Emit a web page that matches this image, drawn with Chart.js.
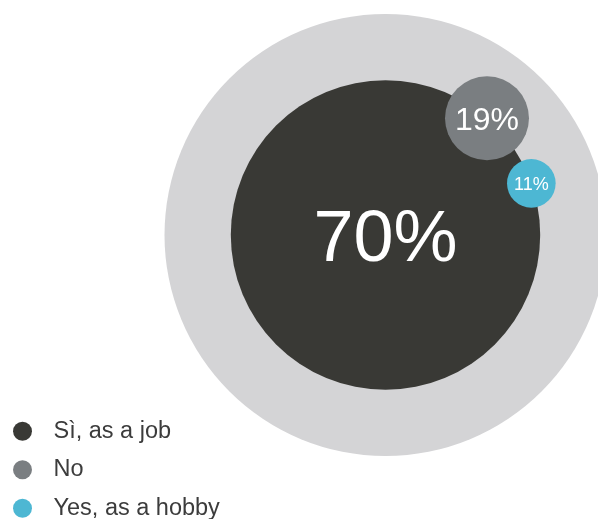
<!DOCTYPE html>
<html>
<head>
<meta charset="utf-8">
<script src="https://cdn.jsdelivr.net/npm/chart.js@4.4.1/dist/chart.umd.min.js"></script>
<style>
  html, body { margin: 0; padding: 0; background: #fff; overflow: hidden; }
  /* a little taller than the window so the legend sits on the bottom edge */
  #wrap { width: 598px; height: 535px; position: relative; }
</style>
</head>
<body>
<div id="wrap"><canvas id="chart"></canvas></div>
<script>
// Survey answers, in percent
const categories = ['Sì, as a job', 'No', 'Yes, as a hobby'];
const shares = [70, 19, 11];
const valueLabels = ['70%', '19%', '11%'];
const total = 100;

// Looks
const COLORS = ['#393935', '#7a7e81', '#4db7d3'];
const TOTAL_COLOR = '#d4d4d6';
const LABEL_SIZES = [72, 32, 18];
const FONT = "'Liberation Sans', Arial, Helvetica, sans-serif";

// Layout: one scale unit = one percent of radius
const PX_PER_UNIT = 2.21;
const CENTER_PX = { x: 385.5, y: 235 };
const AREA = { w: 598, h: 535 };
const SATELLITE_ANGLES = [null, 49, 19.5]; // degrees, small bubbles sit on the main edge

function bubblePoint(value, i) {
  let x = 0, y = 0;
  if (SATELLITE_ANGLES[i] != null) {
    const a = SATELLITE_ANGLES[i] * Math.PI / 180;
    x = shares[0] * Math.cos(a);
    y = shares[0] * Math.sin(a);
  }
  // bubble radius is in pixels, scales are set so 1 unit = PX_PER_UNIT px
  return { x, y, r: value * PX_PER_UNIT };
}

const datasets = categories.map((label, i) => ({
  label,
  data: [bubblePoint(shares[i], i)],
  backgroundColor: COLORS[i],
  borderWidth: 0,
  hoverBorderWidth: 0,
  hoverRadius: 0,
  order: categories.length - 1 - i,
}));

datasets.push({
  label: 'Total',
  data: [bubblePoint(total, 0)],
  backgroundColor: TOTAL_COLOR,
  borderWidth: 0,
  hoverBorderWidth: 0,
  hoverRadius: 0,
  order: categories.length,
});

// Percent text in each bubble
const bubbleText = {
  id: 'bubbleText',
  afterDatasetsDraw(chart) {
    const ctx = chart.ctx;
    ctx.save();
    ctx.fillStyle = '#ffffff';
    ctx.textAlign = 'center';
    ctx.textBaseline = 'alphabetic';
    valueLabels.forEach((txt, i) => {
      const el = chart.getDatasetMeta(i).data[0];
      if (!el) return;
      const size = LABEL_SIZES[i];
      ctx.font = `${size}px ${FONT}`;
      ctx.fillText(txt, el.x, el.y + size * 0.358);
    });
    ctx.restore();
  },
};

new Chart(document.getElementById('chart').getContext('2d'), {
  type: 'bubble',
  data: { datasets },
  options: {
    responsive: true,
    maintainAspectRatio: false,
    animation: false,
    events: [],
    layout: { padding: 0, autoPadding: false },
    scales: {
      x: {
        display: false,
        min: -CENTER_PX.x / PX_PER_UNIT,
        max: (AREA.w - CENTER_PX.x) / PX_PER_UNIT,
      },
      y: {
        display: false,
        min: (CENTER_PX.y - AREA.h) / PX_PER_UNIT,
        max: CENTER_PX.y / PX_PER_UNIT,
      },
    },
    plugins: {
      tooltip: { enabled: false },
      legend: {
        position: 'chartArea',
        align: 'end',
        labels: {
          usePointStyle: true,
          pointStyle: 'circle',
          boxWidth: 15,
          boxHeight: 13.4,
          padding: 15,
          color: '#3c3c3c',
          font: { family: FONT, size: 23.5 },
          filter: (item) => item.datasetIndex < categories.length,
          sort: (a, b) => a.datasetIndex - b.datasetIndex,
          generateLabels(chart) {
            const base = Chart.defaults.plugins.legend.labels.generateLabels(chart);
            return base.map((item) => ({ ...item, text: '\u2002' + item.text, lineWidth: 0 }));
          },
        },
      },
    },
  },
  plugins: [bubbleText],
});
</script>
</body>
</html>
